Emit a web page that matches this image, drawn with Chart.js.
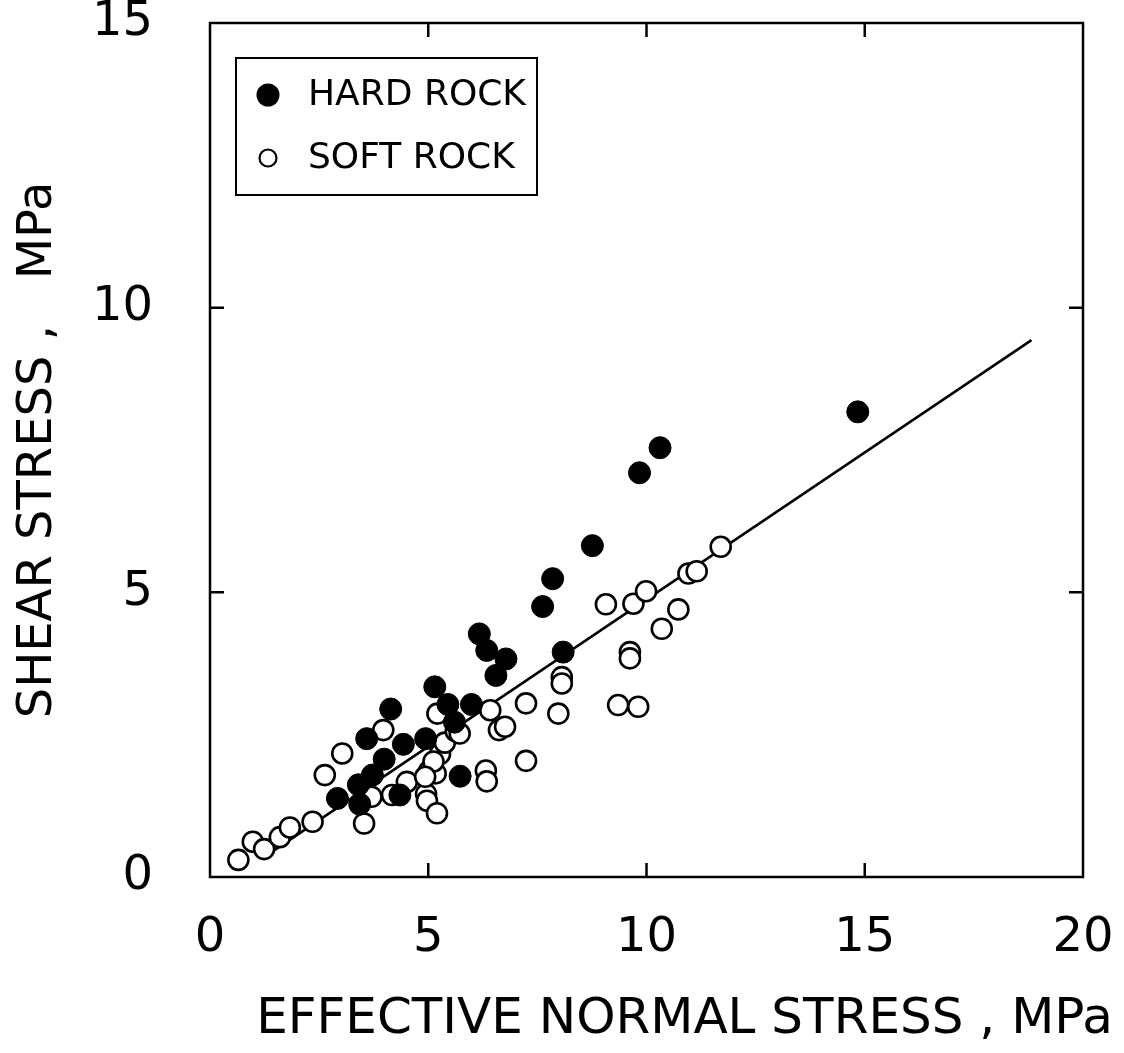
<!DOCTYPE html>
<html><head><meta charset="utf-8">
<script src="https://cdn.jsdelivr.net/npm/chart.js@4.4.1/dist/chart.umd.min.js"></script>
<style>html,body{margin:0;padding:0;background:#fff}canvas{display:block}</style>
</head><body>
<canvas id="c" width="1124" height="1053"></canvas>
<script>
// ---- data ----
const seriesNames = ['HARD ROCK', 'SOFT ROCK'];
const hardX = [14.84,10.31,9.84,8.76,7.85,7.62,8.09,6.17,6.34,6.78,6.55,5.15,5.45,5.99,5.60,4.14,3.59,4.94,4.43,3.99,3.72,3.40,2.92,3.43,4.35,5.73];
const hardY = [8.17,7.54,7.10,5.82,5.24,4.75,3.95,4.27,3.98,3.83,3.54,3.34,3.03,3.03,2.72,2.95,2.43,2.43,2.33,2.07,1.79,1.62,1.38,1.28,1.44,1.77];
const softX = [0.65,0.98,1.24,1.60,1.83,2.35,2.63,3.03,3.97,3.53,3.70,4.17,4.51,4.95,4.97,5.20,5.02,5.17,5.27,5.38,5.63,5.12,5.21,6.42,6.62,6.76,6.32,6.34,7.24,7.24,7.98,8.06,8.06,9.07,9.70,9.99,10.96,11.15,10.73,10.35,9.62,9.62,9.35,9.81,11.70,5.72,4.93];
const softY = [0.30,0.62,0.49,0.70,0.87,0.97,1.79,2.17,2.58,0.94,1.41,1.44,1.67,1.46,1.34,1.12,1.86,1.82,2.16,2.36,2.56,2.03,2.87,2.93,2.58,2.64,1.87,1.68,3.05,2.04,2.87,3.51,3.40,4.79,4.80,5.02,5.33,5.37,4.70,4.36,3.95,3.84,3.02,2.99,5.80,2.52,1.76];
const fitX = [1.3, 18.82];
const fitY = [0.38, 9.43];
const xTicks = [0, 5, 10, 15, 20];
const yTicks = [0, 5, 10, 15];
const xTitle = 'EFFECTIVE NORMAL STRESS , MPa';
const yTitle = 'SHEAR STRESS ,   MPa';

const FONT = '"DejaVu Sans", sans-serif';
const zip = (xs, ys) => xs.map((x, i) => ({x, y: ys[i]}));
const noPad = s => { s.paddingLeft = 0; s.paddingRight = 0; s.paddingTop = 0; s.paddingBottom = 0; };

const framePlugin = {
  id: 'frame',
  afterDraw(chart) {
    const {ctx, chartArea: a, scales: {x, y}} = chart;
    ctx.save();
    ctx.strokeStyle = '#000';
    ctx.lineWidth = 2.5;
    ctx.strokeRect(a.left, a.top, a.right - a.left, a.bottom - a.top);
    const L = 14;
    ctx.beginPath();
    xTicks.slice(1, -1).forEach(v => {
      const px = x.getPixelForValue(v);
      ctx.moveTo(px, a.bottom); ctx.lineTo(px, a.bottom - L);
      ctx.moveTo(px, a.top); ctx.lineTo(px, a.top + L);
    });
    yTicks.slice(1, -1).forEach(v => {
      const py = y.getPixelForValue(v);
      ctx.moveTo(a.left, py); ctx.lineTo(a.left + L, py);
      ctx.moveTo(a.right, py); ctx.lineTo(a.right - L, py);
    });
    ctx.stroke();

    // x axis title (offset to the right of the plot centre, as in the original)
    ctx.fillStyle = '#000';
    ctx.font = '50px ' + FONT;
    ctx.textBaseline = 'middle';
    ctx.textAlign = 'center';
    ctx.fillText(xTitle, (a.left + a.right) / 2 + 38, a.bottom + 143);

    // legend box
    const bx = a.left + 26, by = a.top + 35, bw = 301, bh = 137;
    ctx.lineWidth = 2;
    ctx.strokeRect(bx, by, bw, bh);
    ctx.beginPath(); ctx.arc(bx + 32, by + 37, 11.5, 0, Math.PI * 2); ctx.fill();
    ctx.beginPath(); ctx.arc(bx + 32, by + 100, 8.5, 0, Math.PI * 2);
    ctx.fillStyle = '#fff'; ctx.fill(); ctx.lineWidth = 2.2; ctx.stroke();
    ctx.fillStyle = '#000';
    ctx.font = '36px ' + FONT;
    ctx.textAlign = 'left';
    ctx.fillText(seriesNames[0], bx + 72, by + 38);
    ctx.fillText(seriesNames[1], bx + 72, by + 101);
    ctx.restore();
  }
};

new Chart(document.getElementById('c'), {
  type: 'scatter',
  data: {
    datasets: [
      { label: seriesNames[0], data: zip(hardX, hardY), order: 0,
        pointRadius: 11, pointBackgroundColor: '#000', pointBorderColor: '#000', pointBorderWidth: 1 },
      { label: seriesNames[1], data: zip(softX, softY), order: 1,
        pointRadius: 10, pointBackgroundColor: '#fff', pointBorderColor: '#000', pointBorderWidth: 2.6 },
      { label: 'fit', data: zip(fitX, fitY), order: 2, showLine: true,
        pointRadius: 0, borderColor: '#000', borderWidth: 2.5 }
    ]
  },
  options: {
    responsive: false,
    animation: false,
    layout: { padding: { top: 23, right: 41, left: 0, bottom: 0 } },
    plugins: { legend: { display: false }, tooltip: { enabled: false } },
    scales: {
      x: {
        type: 'linear', min: 0, max: 20,
        afterBuildTicks: s => { s.ticks = xTicks.map(v => ({value: v})); },
        afterFit: s => { s.height = 176; noPad(s); },
        grid: { display: false, drawTicks: false },
        border: { display: false },
        ticks: { color: '#000', padding: 38, font: { family: FONT, size: 48, lineHeight: 1 }, maxRotation: 0 },
        title: { display: false }
      },
      y: {
        type: 'linear', min: 0, max: 15,
        afterBuildTicks: s => { s.ticks = yTicks.map(v => ({value: v})); },
        afterFit: s => { s.width = 210; noPad(s); },
        grid: { display: false, drawTicks: false },
        border: { display: false },
        ticks: { color: '#000', padding: 57, font: { family: FONT, size: 48, lineHeight: 1 } },
        title: { display: true, text: yTitle, color: '#000', padding: { top: 15, bottom: 0 },
                 font: { family: FONT, size: 48, lineHeight: 1 } }
      }
    }
  },
  plugins: [framePlugin]
});
</script>
</body></html>
